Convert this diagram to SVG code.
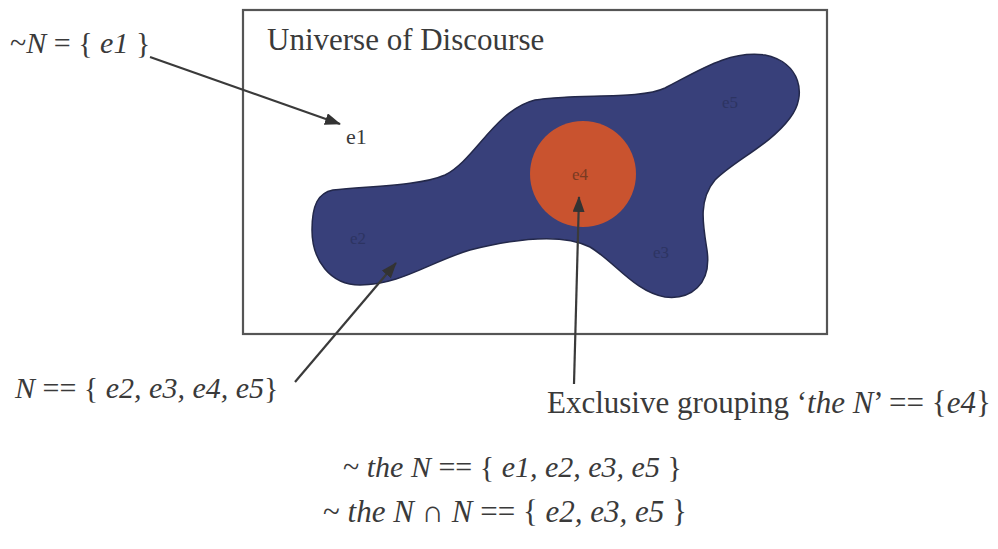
<svg xmlns="http://www.w3.org/2000/svg" width="998" height="549" viewBox="0 0 998 549">
<style>
.t{font-family:"Liberation Serif","Times New Roman",serif;fill:#3a3a3a;font-size:30px}
.i{font-style:italic}
.conn{stroke:#3a3a3a;stroke-width:2.2;fill:none}
.faint{font-family:"Liberation Serif",serif;font-size:17px;fill:#2d3462}
</style>
<defs>
<marker id="ah" markerWidth="16" markerHeight="12" refX="15" refY="6" orient="auto" markerUnits="userSpaceOnUse">
<path d="M0,0 L16,6 L0,12 z" fill="#333"/>
</marker>
</defs>
<rect width="998" height="549" fill="#fff"/>
<g id="universe">
<rect x="243" y="10" width="584" height="324" fill="none" stroke="#555" stroke-width="2.2"/>
<text class="t" x="267" y="50" style="font-size:31px">Universe of Discourse</text>
</g>
<g id="N-set">
<path d="M333,190 C370,186 420,186 445,175 C475,160 495,110 535,100 C575,93 640,100 665,88 C700,70 730,50 765,55 C800,62 808,95 790,118 C770,145 735,160 715,180 C698,200 703,225 707,250 C712,285 690,300 665,297 C635,292 615,262 590,247 C560,232 510,240 470,250 C430,262 400,285 360,285 C330,285 312,260 312,230 C312,205 318,193 333,190 Z" fill="#38407a" stroke="#23284a" stroke-width="1.5"/>
<text class="faint" x="350" y="244">e2</text>
<text class="faint" x="653" y="258">e3</text>
<text class="faint" x="722" y="108">e5</text>
</g>
<g id="the-N">
<circle cx="583" cy="174" r="53" fill="#c9532f"/>
<text x="580" y="180" text-anchor="middle" font-family="Liberation Serif,serif" font-size="17" fill="#7a3a22">e4</text>
</g>
<g id="e1">
<text class="t" x="346" y="144" style="font-size:22px">e1</text>
</g>
<g id="connectors">
<line class="conn" x1="150" y1="57" x2="340" y2="124" marker-end="url(#ah)"/>
<line class="conn" x1="295" y1="382" x2="396" y2="263" marker-end="url(#ah)"/>
<line class="conn" x1="574" y1="384" x2="579" y2="197" marker-end="url(#ah)"/>
</g>
<g id="labels">
<text class="t" x="10" y="53">~<tspan class="i">N</tspan> = { <tspan class="i">e1</tspan> }</text>
<text class="t" x="15" y="398"><tspan class="i">N</tspan> == { <tspan class="i">e2, e3, e4, e5</tspan>}</text>
<text class="t" x="547" y="413" style="font-size:31px">Exclusive grouping ‘<tspan class="i">the N</tspan>’ == {<tspan class="i">e4</tspan>}</text>
<text class="t" x="343" y="477">~ <tspan class="i">the N</tspan> == { <tspan class="i">e1, e2, e3, e5</tspan> }</text>
<text class="t" x="323" y="522" style="font-size:31px">~ <tspan class="i">the N</tspan> ∩ <tspan class="i">N</tspan> == { <tspan class="i">e2, e3, e5</tspan> }</text>
</g>
</svg>
